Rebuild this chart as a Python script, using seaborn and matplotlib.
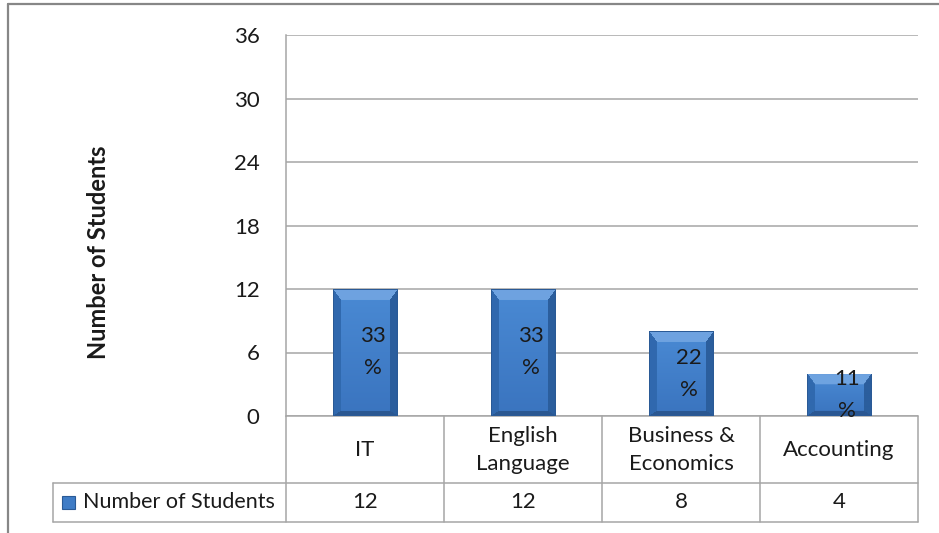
import numpy as np
import pandas as pd
import matplotlib
matplotlib.use("Agg")
import matplotlib.pyplot as plt
import matplotlib.transforms as mtransforms
from matplotlib.patches import Rectangle
from matplotlib.lines import Line2D
import seaborn as sns

# ---- data ----
categories = ["IT", "English\nLanguage", "Business &\nEconomics", "Accounting"]
students = [12, 12, 8, 4]
y_ticks = [0, 6, 12, 18, 24, 30, 36]
series_name = "Number of Students"
axis_title = "Number of Students"

sns.set_theme(style="white")
plt.rcParams["font.family"] = ["Lato", "DejaVu Sans"]

W, H = 939, 533
fig = plt.figure(figsize=(W / 100, H / 100), dpi=100)
fig.patch.set_facecolor("white")

# plot area in pixel terms -> figure fractions
ax_left, ax_right, ax_top, ax_bottom = 286, 918, 35, 416
ax = fig.add_axes([ax_left / W, (H - ax_bottom) / H,
                   (ax_right - ax_left) / W, (ax_bottom - ax_top) / H])

df = pd.DataFrame({"category": categories, "students": students})
sns.barplot(data=df, x="category", y="students", color="#3f7cc6",
            saturation=1, width=0.41, edgecolor="none", linewidth=0,
            ax=ax, zorder=3)

GRID = "#a6a6a6"
TEXT = "#1a1a1a"
FS = 16

ax.set_ylim(y_ticks[0], y_ticks[-1])
ax.set_xlim(-0.5, len(categories) - 0.5)
ax.set_yticks(y_ticks)
ax.set_yticklabels([str(t) for t in y_ticks])
ax.set_xticks([])
ax.set_xlabel("")
ax.tick_params(axis="y", length=0, pad=19, labelsize=FS, labelcolor=TEXT)
ax.yaxis.grid(True, color=GRID, linewidth=1.1)
ax.set_axisbelow(True)
for side in ("top", "right", "bottom"):
    ax.spines[side].set_visible(False)
ax.spines["left"].set_color(GRID)
ax.spines["left"].set_linewidth(1.1)

ax.set_ylabel(axis_title, fontsize=17, fontweight="bold", color=TEXT)
ax.yaxis.set_label_coords(-0.278, 0.43)


def hex2rgb(h):
    return np.array([int(h[i:i + 2], 16) / 255 for i in (1, 3, 5)])


def bevel_image(w_px, h_px, widths=(8, 8, 11, 5)):
    """RGB array of a bevelled bar face, row 0 at the top."""
    yy, xx = np.mgrid[0:h_px, 0:w_px]
    d = np.stack([xx, w_px - 1 - xx, yy, h_px - 1 - yy]).astype(float)
    dn = d / np.array(widths, dtype=float)[:, None, None]
    side = np.argmin(dn, axis=0)
    near = np.min(dn, axis=0) < 1
    top_c, bot_c = hex2rgb("#4a8ad4"), hex2rgb("#3a74bf")
    t = (yy / max(h_px - 1, 1))[..., None]
    img = top_c * (1 - t) + bot_c * t
    bevel_cols = [hex2rgb("#3069ae"), hex2rgb("#2b5e9d"),
                  hex2rgb("#6ea3e0"), hex2rgb("#2a5792")]
    for k, col in enumerate(bevel_cols):
        img[near & (side == k)] = col
    img[np.min(d, axis=0) < 1] = hex2rgb("#2a5a96")
    return img


px_per_unit = (ax_bottom - ax_top) / (y_ticks[-1] - y_ticks[0])
col_px = (ax_right - ax_left) / len(categories)
for patch in ax.patches:
    x0, y0 = patch.get_x(), patch.get_y()
    w, h = patch.get_width(), patch.get_height()
    img = bevel_image(max(int(round(w * col_px)), 2), max(int(round(h * px_per_unit)), 2))
    im = ax.imshow(img, extent=(x0, x0 + w, y0, y0 + h), origin="upper",
                   aspect="auto", interpolation="bilinear", zorder=4)
    im.set_clip_path(patch)

ax.set_xlim(-0.5, len(categories) - 0.5)
ax.set_ylim(y_ticks[0], y_ticks[-1])

# share-of-total labels inside the bars
total = sum(students)
for i, n in enumerate(students):
    pct = round(100 * n / total)
    ax.text(i + 0.05, n / 2, f"{pct}\n%", ha="center", va="center",
            fontsize=FS, color=TEXT, linespacing=1.75, zorder=6)

# ---- data table under the plot ----
trans = mtransforms.blended_transform_factory(ax.transData, ax.transAxes)
row_mid = -(483 - ax_bottom) / (ax_bottom - ax_top)
row_bot = -(522 - ax_bottom) / (ax_bottom - ax_top)
leg_left = (53 - ax_left) / (ax_right - ax_left)
n_cat = len(categories)

line_kw = dict(color=GRID, linewidth=1.1, clip_on=False, zorder=2)
for k in range(n_cat + 1):
    ax.add_line(Line2D([k - 0.5, k - 0.5], [0, row_bot], transform=trans, **line_kw))
ax.add_line(Line2D([-0.5, n_cat - 0.5], [0, 0], transform=trans, **line_kw))
for yy in (row_mid, row_bot):
    ax.add_line(Line2D([leg_left, 1], [yy, yy], transform=ax.transAxes, **line_kw))
ax.add_line(Line2D([leg_left, leg_left], [row_mid, row_bot], transform=ax.transAxes, **line_kw))

for i, (cat, n) in enumerate(zip(categories, students)):
    ax.text(i, row_mid / 2, cat, transform=trans, ha="center", va="center",
            fontsize=FS, color=TEXT, linespacing=1.5)
    ax.text(i, (row_mid + row_bot) / 2, str(n), transform=trans, ha="center",
            va="center", fontsize=FS, color=TEXT)

# legend key in the table's first cell
key_x = (62 - ax_left) / (ax_right - ax_left)
key_w = 13 / (ax_right - ax_left)
key_h = 13 / (ax_bottom - ax_top)
row_c = (row_mid + row_bot) / 2
ax.add_patch(Rectangle((key_x, row_c - key_h / 2), key_w, key_h,
                       transform=ax.transAxes, facecolor="#3f7cc6",
                       edgecolor="#2a5a96", linewidth=0.8, clip_on=False))
ax.text((83 - ax_left) / (ax_right - ax_left), row_c, series_name,
        transform=ax.transAxes, ha="left", va="center", fontsize=15.5, color=TEXT)

# chart frame
frame_kw = dict(color="#878787", linewidth=1.6, transform=fig.transFigure)
fig.add_artist(Line2D([8 / W, 8 / W], [0, 1 - 4 / H], **frame_kw))
fig.add_artist(Line2D([8 / W, 1], [1 - 4 / H, 1 - 4 / H], **frame_kw))

fig.savefig("out.png", dpi=100, facecolor="white")
